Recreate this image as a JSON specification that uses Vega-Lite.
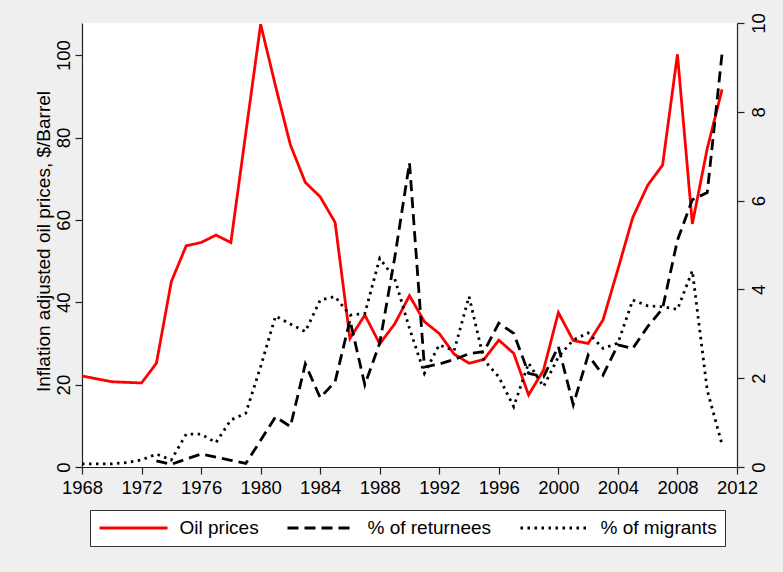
{
  "$schema": "https://vega.github.io/schema/vega-lite/v6.json",
  "width": 655,
  "height": 444,
  "autosize": {"type": "none"},
  "padding": {"left": 82, "top": 23, "right": 46, "bottom": 105},
  "background": "#efefef",
  "config": {
    "view": {"fill": "white", "stroke": null},
    "font": "Liberation Sans",
    "axis": {
      "grid": false,
      "domainColor": "#222",
      "domainWidth": 1.2,
      "tickColor": "#222",
      "tickWidth": 1.2,
      "tickSize": 7,
      "labelColor": "black",
      "labelFont": "Liberation Sans",
      "labelFontSize": 18.5,
      "titleColor": "black",
      "titleFont": "Liberation Sans",
      "titleFontWeight": "normal",
      "titleFontSize": 19
    },
    "legend": {
      "labelFont": "Liberation Sans"
    }
  },
  "data": {
    "values": [
      {"year": 1968, "series": "Oil prices", "value": 22.1},
      {"year": 1970, "series": "Oil prices", "value": 20.7},
      {"year": 1972, "series": "Oil prices", "value": 20.4},
      {"year": 1973, "series": "Oil prices", "value": 25.2},
      {"year": 1974, "series": "Oil prices", "value": 45.0},
      {"year": 1975, "series": "Oil prices", "value": 53.7},
      {"year": 1976, "series": "Oil prices", "value": 54.5},
      {"year": 1977, "series": "Oil prices", "value": 56.3},
      {"year": 1978, "series": "Oil prices", "value": 54.5},
      {"year": 1979, "series": "Oil prices", "value": 81.0},
      {"year": 1980, "series": "Oil prices", "value": 107.5},
      {"year": 1981, "series": "Oil prices", "value": 92.5},
      {"year": 1982, "series": "Oil prices", "value": 78.2},
      {"year": 1983, "series": "Oil prices", "value": 69.1},
      {"year": 1984, "series": "Oil prices", "value": 65.6},
      {"year": 1985, "series": "Oil prices", "value": 59.4},
      {"year": 1986, "series": "Oil prices", "value": 31.2},
      {"year": 1987, "series": "Oil prices", "value": 36.9},
      {"year": 1988, "series": "Oil prices", "value": 29.9},
      {"year": 1989, "series": "Oil prices", "value": 34.7},
      {"year": 1990, "series": "Oil prices", "value": 41.6},
      {"year": 1991, "series": "Oil prices", "value": 35.3},
      {"year": 1992, "series": "Oil prices", "value": 32.4},
      {"year": 1993, "series": "Oil prices", "value": 27.4},
      {"year": 1994, "series": "Oil prices", "value": 25.2},
      {"year": 1995, "series": "Oil prices", "value": 26.1},
      {"year": 1996, "series": "Oil prices", "value": 30.8},
      {"year": 1997, "series": "Oil prices", "value": 27.6},
      {"year": 1998, "series": "Oil prices", "value": 17.5},
      {"year": 1999, "series": "Oil prices", "value": 23.5},
      {"year": 2000, "series": "Oil prices", "value": 37.5},
      {"year": 2001, "series": "Oil prices", "value": 30.7},
      {"year": 2002, "series": "Oil prices", "value": 30.0},
      {"year": 2003, "series": "Oil prices", "value": 35.7},
      {"year": 2004, "series": "Oil prices", "value": 48.0},
      {"year": 2005, "series": "Oil prices", "value": 60.6},
      {"year": 2006, "series": "Oil prices", "value": 68.4},
      {"year": 2007, "series": "Oil prices", "value": 73.3},
      {"year": 2008, "series": "Oil prices", "value": 100.2},
      {"year": 2009, "series": "Oil prices", "value": 59.0},
      {"year": 2010, "series": "Oil prices", "value": 77.3},
      {"year": 2011, "series": "Oil prices", "value": 91.7},

      {"year": 1973, "series": "% of returnees", "value": 0.14},
      {"year": 1974, "series": "% of returnees", "value": 0.06},
      {"year": 1975, "series": "% of returnees", "value": 0.18},
      {"year": 1976, "series": "% of returnees", "value": 0.29},
      {"year": 1977, "series": "% of returnees", "value": 0.22},
      {"year": 1978, "series": "% of returnees", "value": 0.15},
      {"year": 1979, "series": "% of returnees", "value": 0.08},
      {"year": 1980, "series": "% of returnees", "value": 0.6},
      {"year": 1981, "series": "% of returnees", "value": 1.13},
      {"year": 1982, "series": "% of returnees", "value": 0.91},
      {"year": 1983, "series": "% of returnees", "value": 2.32},
      {"year": 1984, "series": "% of returnees", "value": 1.56},
      {"year": 1985, "series": "% of returnees", "value": 1.92},
      {"year": 1986, "series": "% of returnees", "value": 3.31},
      {"year": 1987, "series": "% of returnees", "value": 1.85},
      {"year": 1988, "series": "% of returnees", "value": 2.79},
      {"year": 1989, "series": "% of returnees", "value": 4.7},
      {"year": 1990, "series": "% of returnees", "value": 6.85},
      {"year": 1991, "series": "% of returnees", "value": 2.25},
      {"year": 1992, "series": "% of returnees", "value": 2.32},
      {"year": 1993, "series": "% of returnees", "value": 2.42},
      {"year": 1994, "series": "% of returnees", "value": 2.55},
      {"year": 1995, "series": "% of returnees", "value": 2.6},
      {"year": 1996, "series": "% of returnees", "value": 3.24},
      {"year": 1997, "series": "% of returnees", "value": 3.01},
      {"year": 1998, "series": "% of returnees", "value": 2.11},
      {"year": 1999, "series": "% of returnees", "value": 2.03},
      {"year": 2000, "series": "% of returnees", "value": 2.71},
      {"year": 2001, "series": "% of returnees", "value": 1.40},
      {"year": 2002, "series": "% of returnees", "value": 2.52},
      {"year": 2003, "series": "% of returnees", "value": 2.07},
      {"year": 2004, "series": "% of returnees", "value": 2.75},
      {"year": 2005, "series": "% of returnees", "value": 2.67},
      {"year": 2006, "series": "% of returnees", "value": 3.16},
      {"year": 2007, "series": "% of returnees", "value": 3.57},
      {"year": 2008, "series": "% of returnees", "value": 5.11},
      {"year": 2009, "series": "% of returnees", "value": 6.02},
      {"year": 2010, "series": "% of returnees", "value": 6.18},
      {"year": 2011, "series": "% of returnees", "value": 9.32},

      {"year": 1968, "series": "% of migrants", "value": 0.07},
      {"year": 1969, "series": "% of migrants", "value": 0.07},
      {"year": 1970, "series": "% of migrants", "value": 0.07},
      {"year": 1971, "series": "% of migrants", "value": 0.1},
      {"year": 1972, "series": "% of migrants", "value": 0.16},
      {"year": 1973, "series": "% of migrants", "value": 0.29},
      {"year": 1974, "series": "% of migrants", "value": 0.16},
      {"year": 1975, "series": "% of migrants", "value": 0.74},
      {"year": 1976, "series": "% of migrants", "value": 0.74},
      {"year": 1977, "series": "% of migrants", "value": 0.55},
      {"year": 1978, "series": "% of migrants", "value": 1.06},
      {"year": 1979, "series": "% of migrants", "value": 1.21},
      {"year": 1980, "series": "% of migrants", "value": 2.26},
      {"year": 1981, "series": "% of migrants", "value": 3.40},
      {"year": 1982, "series": "% of migrants", "value": 3.22},
      {"year": 1983, "series": "% of migrants", "value": 3.05},
      {"year": 1984, "series": "% of migrants", "value": 3.76},
      {"year": 1985, "series": "% of migrants", "value": 3.84},
      {"year": 1986, "series": "% of migrants", "value": 3.42},
      {"year": 1987, "series": "% of migrants", "value": 3.46},
      {"year": 1988, "series": "% of migrants", "value": 4.70},
      {"year": 1989, "series": "% of migrants", "value": 4.25},
      {"year": 1990, "series": "% of migrants", "value": 3.12},
      {"year": 1991, "series": "% of migrants", "value": 2.11},
      {"year": 1992, "series": "% of migrants", "value": 2.75},
      {"year": 1993, "series": "% of migrants", "value": 2.62},
      {"year": 1994, "series": "% of migrants", "value": 3.84},
      {"year": 1995, "series": "% of migrants", "value": 2.41},
      {"year": 1996, "series": "% of migrants", "value": 2.03},
      {"year": 1997, "series": "% of migrants", "value": 1.36},
      {"year": 1998, "series": "% of migrants", "value": 2.34},
      {"year": 1999, "series": "% of migrants", "value": 1.81},
      {"year": 2000, "series": "% of migrants", "value": 2.48},
      {"year": 2001, "series": "% of migrants", "value": 2.86},
      {"year": 2002, "series": "% of migrants", "value": 3.02},
      {"year": 2003, "series": "% of migrants", "value": 2.67},
      {"year": 2004, "series": "% of migrants", "value": 2.79},
      {"year": 2005, "series": "% of migrants", "value": 3.76},
      {"year": 2006, "series": "% of migrants", "value": 3.63},
      {"year": 2007, "series": "% of migrants", "value": 3.61},
      {"year": 2008, "series": "% of migrants", "value": 3.55},
      {"year": 2009, "series": "% of migrants", "value": 4.42},
      {"year": 2010, "series": "% of migrants", "value": 1.73},
      {"year": 2011, "series": "% of migrants", "value": 0.5}
    ]
  },
  "encoding": {
    "x": {
      "field": "year",
      "type": "quantitative",
      "scale": {"domain": [1968, 2012], "nice": false, "zero": false},
      "axis": {
        "title": null,
        "values": [1968, 1972, 1976, 1980, 1984, 1988, 1992, 1996, 2000, 2004, 2008, 2012],
        "format": "d",
        "labelFlush": false,
        "labelPadding": 4
      }
    },
    "color": {
      "field": "series",
      "type": "nominal",
      "scale": {
        "domain": ["Oil prices", "% of returnees", "% of migrants"],
        "range": ["#ff0000", "#000000", "#000000"]
      },
      "legend": {
        "title": null,
        "orient": "none",
        "legendX": 8,
        "legendY": 487,
        "direction": "horizontal",
        "columns": 3,
        "symbolType": "M-4,0H4",
        "symbolSize": 289,
        "symbolOffset": 25.5,
        "symbolStrokeWidth": 2.8,
        "symbolFillColor": "transparent",
        "labelFontSize": 19,
        "labelColor": "black",
        "labelOffset": 36,
        "columnPadding": 22,
        "padding": 8,
        "strokeColor": "#333",
        "fillColor": "white"
      }
    },
    "strokeDash": {
      "field": "series",
      "type": "nominal",
      "scale": {
        "domain": ["Oil prices", "% of returnees", "% of migrants"],
        "range": [[1, 0], [11, 6], [2.5, 4.5]]
      },
      "legend": {
        "title": null,
        "orient": "none",
        "legendX": 8,
        "legendY": 487,
        "direction": "horizontal",
        "columns": 3,
        "symbolType": "M-4,0H4",
        "symbolSize": 289,
        "symbolOffset": 25.5,
        "symbolStrokeWidth": 2.8,
        "symbolFillColor": "transparent",
        "labelFontSize": 19,
        "labelColor": "black",
        "labelOffset": 36,
        "columnPadding": 22,
        "padding": 8,
        "strokeColor": "#333",
        "fillColor": "white"
      }
    }
  },
  "layer": [
    {
      "transform": [{"filter": "datum.series === 'Oil prices'"}],
      "mark": {"type": "line", "strokeWidth": 2.8, "strokeJoin": "miter"},
      "encoding": {
        "y": {
          "field": "value",
          "type": "quantitative",
          "scale": {"domain": [0, 107.8], "nice": false},
          "axis": {
            "orient": "left",
            "values": [0, 20, 40, 60, 80, 100],
            "title": "Inflation adjusted oil prices, $/Barrel",
            "labelAngle": 270,
            "labelAlign": "center",
            "labelBaseline": "alphabetic",
            "labelPadding": 6,
            "titleAngle": 270,
            "titleAlign": "center",
            "titleBaseline": "alphabetic",
            "titleX": -33,
            "titleY": 218
          }
        }
      }
    },
    {
      "transform": [{"filter": "datum.series !== 'Oil prices'"}],
      "mark": {"type": "line", "strokeWidth": 2.8, "strokeJoin": "miter"},
      "encoding": {
        "y": {
          "field": "value",
          "type": "quantitative",
          "scale": {"domain": [0, 10], "nice": false},
          "axis": {
            "orient": "right",
            "values": [0, 2, 4, 6, 8, 10],
            "title": null,
            "labelAngle": 270,
            "labelAlign": "center",
            "labelBaseline": "top",
            "labelPadding": 5
          }
        }
      }
    }
  ],
  "resolve": {"scale": {"y": "independent"}}
}
